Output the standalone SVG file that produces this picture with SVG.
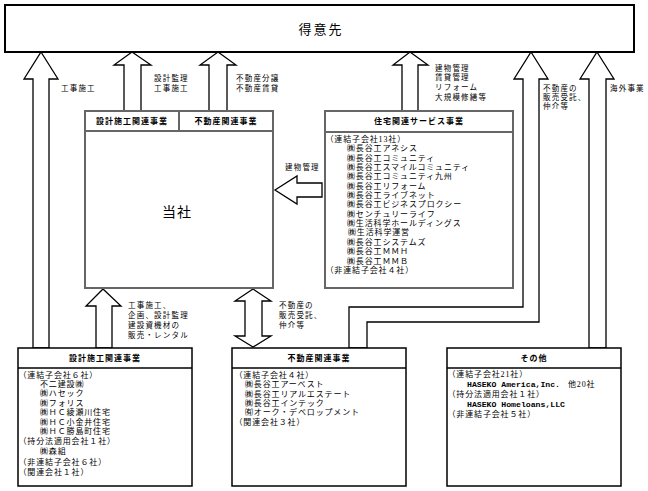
<svg xmlns="http://www.w3.org/2000/svg" width="648" height="491" viewBox="0 0 648 491">
<style>
.box{fill:#fff;stroke:#000;stroke-width:1.5}
.gbox{fill:#fff;stroke:#666;stroke-width:2}
.gl{stroke:#666;stroke-width:2}
.bl{stroke:#000;stroke-width:1.5}
.arr{fill:#fff;stroke:#000;stroke-width:1.3;stroke-linejoin:miter}
text{font-family:"Liberation Serif","Noto Sans CJK JP",serif;font-size:8px;letter-spacing:0.85px;dominant-baseline:central;fill:#000}
.h{font-weight:bold;text-anchor:middle;letter-spacing:1px}
.lb{font-size:7.5px;letter-spacing:1.2px}
.big{font-size:13px;letter-spacing:2px;text-anchor:middle}
.mono{font-family:"Liberation Mono","Noto Sans CJK JP",monospace;font-weight:bold;letter-spacing:0}
</style>
<rect width="648" height="491" fill="#fff"/>

<g id="connectors">
  <polygon class="arr" points="41,52 58,79 49,79 49,348 33,348 33,79 24,79"/>
  <text class="lb" x="61" y="88">工事施工</text>

  <polygon class="arr" points="132,52 151,65 141,65 141,111 124,111 124,65 114,65"/>
  <text class="lb" x="154" y="78">設計監理</text>
  <text class="lb" x="154" y="88">工事施工</text>

  <polygon class="arr" points="218,52 236,65 227,65 227,111 209,111 209,65 200,65"/>
  <text class="lb" x="236" y="78">不動産分譲</text>
  <text class="lb" x="236" y="88">不動産賃貸</text>

  <polygon class="arr" points="410,52 428,65 418,65 418,111 402,111 402,65 393,65"/>
  <text class="lb" x="435" y="68">建物管理</text>
  <text class="lb" x="435" y="77.5">賃貸管理</text>
  <text class="lb" x="435" y="87.5">リフォーム</text>
  <text class="lb" x="435" y="97">大規模修繕等</text>

  <polygon class="arr" points="531,52 548,79 539,79 539,322 367,322 367,348 349,348 349,307 523,307 523,79 514,79"/>
  <text class="lb" x="543" y="88">不動産の</text>
  <text class="lb" x="543" y="97">販売受託、</text>
  <text class="lb" x="543" y="106">仲介等</text>

  <polygon class="arr" points="597,52 614,79 606,79 606,348 589,348 589,79 580,79"/>
  <text class="lb" x="610" y="88">海外事業</text>

  <polygon class="arr" points="275,190 297,176 297,183 322,183 322,197 297,197 297,204"/>
  <text class="lb" x="285" y="167">建物管理</text>

  <polygon class="arr" points="103,289 121,306 112,306 112,348 96,348 96,306 86,306"/>
  <text class="lb" x="128" y="305">工事施工、</text>
  <text class="lb" x="128" y="315">企画、設計監理</text>
  <text class="lb" x="128" y="325">建設資機材の</text>
  <text class="lb" x="128" y="335">販売・レンタル</text>

  <polygon class="arr" points="253,289 271,301 262,301 262,336 271,336 253,347 235,336 245,336 245,301 235,301"/>
  <text class="lb" x="279" y="305">不動産の</text>
  <text class="lb" x="279" y="315">販売受託、</text>
  <text class="lb" x="279" y="325">仲介等</text>
</g>

<g id="customer">
  <rect x="5" y="5" width="629" height="47" fill="#fff" stroke="#000" stroke-width="2"/>
  <text class="big" x="321" y="29.5">得意先</text>
</g>

<g id="company">
  <rect class="gbox" x="85" y="111" width="188" height="177"/>
  <line class="gl" x1="85" y1="131" x2="273" y2="131"/>
  <line class="gl" x1="179" y1="111" x2="179" y2="131"/>
  <text class="h" x="132" y="121">設計施工関連事業</text>
  <text class="h" x="226" y="121">不動産関連事業</text>
  <text x="177" y="212" style="font-size:14px;letter-spacing:1px;text-anchor:middle">当社</text>
</g>

<g id="housing-services">
  <rect class="gbox" x="325" y="111" width="188" height="177"/>
  <line class="gl" x1="325" y1="132" x2="513" y2="132"/>
  <text class="h" x="419" y="121.5">住宅関連サービス事業</text>
  <text x="325.5" y="139.3">（連結子会社13社）</text>
  <text x="347" y="148.7">㈱長谷工アネシス</text>
  <text x="347" y="158">㈱長谷工コミュニティ</text>
  <text x="347" y="167.4">㈱長谷工スマイルコミュニティ</text>
  <text x="347" y="176.7">㈱長谷工コミュニティ九州</text>
  <text x="347" y="186.1">㈱長谷工リフォーム</text>
  <text x="347" y="195.5">㈱長谷工ライブネット</text>
  <text x="347" y="204.8">㈱長谷工ビジネスプロクシー</text>
  <text x="347" y="214.2">㈱センチュリーライフ</text>
  <text x="347" y="223.5">㈱生活科学ホールディングス</text>
  <text x="348" y="232.9">㈱生活科学運営</text>
  <text x="347" y="242.3">㈱長谷工システムズ</text>
  <text x="347" y="251.6">㈱長谷工ＭＭＨ</text>
  <text x="347" y="261">㈱長谷工ＭＭＢ</text>
  <text x="325.5" y="270.3">（非連結子会社４社）</text>
</g>

<g id="design-construction">
  <rect class="box" x="18" y="348" width="174" height="138"/>
  <line class="bl" x1="18" y1="368" x2="192" y2="368"/>
  <text class="h" x="105" y="358">設計施工関連事業</text>
  <text x="18.5" y="375">（連結子会社６社）</text>
  <text x="40" y="384.3">不二建設㈱</text>
  <text x="40" y="393.5">㈱ハセック</text>
  <text x="40" y="403">㈱フォリス</text>
  <text x="40" y="412.5">㈱ＨＣ綾瀬川住宅</text>
  <text x="40" y="422">㈱ＨＣ小金井住宅</text>
  <text x="40" y="431.7">㈱ＨＣ勝島町住宅</text>
  <text x="18.5" y="441.7">（持分法適用会社１社）</text>
  <text x="40" y="451.7">㈱森組</text>
  <text x="18.5" y="462.3">（非連結子会社６社）</text>
  <text x="18.5" y="472.3">（関連会社１社）</text>
</g>

<g id="real-estate">
  <rect class="box" x="232" y="348" width="174" height="138"/>
  <line class="bl" x1="232" y1="368" x2="406" y2="368"/>
  <text class="h" x="319" y="358">不動産関連事業</text>
  <text x="234.5" y="375">（連結子会社４社）</text>
  <text x="245" y="384.3">㈱長谷工アーベスト</text>
  <text x="245" y="394">㈱長谷工リアルエステート</text>
  <text x="245" y="403.3">㈱長谷工インテック</text>
  <text x="245" y="412.7">㈲オーク・デベロップメント</text>
  <text x="234.5" y="422.7">（関連会社３社）</text>
</g>

<g id="others">
  <rect class="box" x="447" y="348" width="174" height="138"/>
  <line class="bl" x1="447" y1="368" x2="621" y2="368"/>
  <text class="h" x="534" y="358">その他</text>
  <text x="447.5" y="374.3">（連結子会社21社）</text>
  <text class="mono" x="467" y="384.3" textLength="93" lengthAdjust="spacingAndGlyphs">HASEKO America,Inc.</text>
  <text x="568" y="384.3">他20社</text>
  <text x="447.5" y="394">（持分法適用会社１社）</text>
  <text class="mono" x="467" y="404" textLength="98" lengthAdjust="spacingAndGlyphs">HASEKO Homeloans,LLC</text>
  <text x="447.5" y="414.3">（非連結子会社５社）</text>
</g>
</svg>
